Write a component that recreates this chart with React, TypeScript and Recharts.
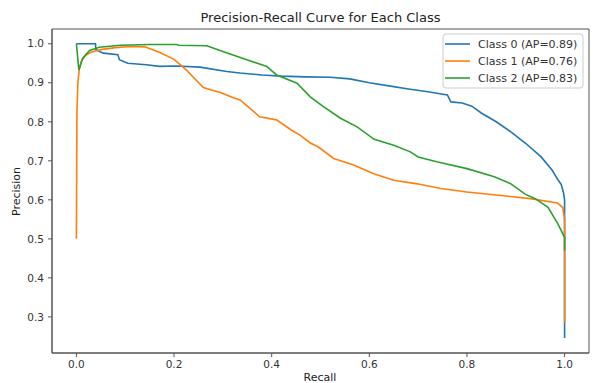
import { LineChart, Line, XAxis, YAxis, ReferenceArea } from "recharts";

const recall0 = [0, 0.039, 0.04, 0.055, 0.085, 0.088, 0.105, 0.143, 0.17, 0.205, 0.253, 0.308, 0.335, 0.38, 0.42, 0.47, 0.52, 0.56, 0.6, 0.64, 0.68, 0.72, 0.76, 0.767, 0.79, 0.81, 0.83, 0.86, 0.89, 0.92, 0.952, 0.975, 0.986, 0.993, 0.998, 1.0, 1.0];
const precision0 = [1.0, 1.0, 0.985, 0.976, 0.972, 0.959, 0.95, 0.946, 0.942, 0.943, 0.94, 0.929, 0.925, 0.92, 0.917, 0.915, 0.914, 0.91, 0.9, 0.892, 0.884, 0.877, 0.869, 0.851, 0.848, 0.84, 0.822, 0.8, 0.774, 0.745, 0.71, 0.675, 0.652, 0.64, 0.617, 0.6, 0.246];

const recall1 = [0, 0.001, 0.003, 0.006, 0.01, 0.018, 0.03, 0.05, 0.08, 0.11, 0.14, 0.155, 0.17, 0.2, 0.225, 0.245, 0.26, 0.28, 0.295, 0.32, 0.335, 0.36, 0.375, 0.41, 0.44, 0.458, 0.48, 0.495, 0.527, 0.568, 0.609, 0.65, 0.698, 0.746, 0.8, 0.87, 0.93, 0.985, 0.996, 1.0, 1.0];
const precision1 = [0.5, 0.82, 0.9, 0.935, 0.955, 0.97, 0.978, 0.985, 0.99, 0.993, 0.992, 0.985, 0.978, 0.96, 0.933, 0.907, 0.888, 0.88, 0.875, 0.862, 0.856, 0.83, 0.813, 0.805, 0.779, 0.766, 0.745, 0.736, 0.706, 0.689, 0.667, 0.65, 0.641, 0.629, 0.62, 0.611, 0.603, 0.592, 0.581, 0.55, 0.285];

const recall2 = [0, 0.005, 0.013, 0.027, 0.047, 0.09, 0.15, 0.205, 0.21, 0.267, 0.3, 0.349, 0.39, 0.41, 0.452, 0.479, 0.506, 0.541, 0.575, 0.61, 0.65, 0.684, 0.7, 0.74, 0.8, 0.856, 0.89, 0.92, 0.94, 0.966, 0.986, 1.0, 1.0];
const precision2 = [1.0, 0.933, 0.963, 0.983, 0.991, 0.996, 0.998, 0.998, 0.996, 0.995, 0.98, 0.959, 0.942, 0.92, 0.899, 0.864, 0.839, 0.809, 0.787, 0.755, 0.74, 0.723, 0.71, 0.697, 0.68, 0.659, 0.641, 0.614, 0.603, 0.581, 0.539, 0.504, 0.47];

const classNames = ["Class 0", "Class 1", "Class 2"];
const apScores = [0.89, 0.76, 0.83];
const colors = ["#1f77b4", "#ff7f0e", "#2ca02c"];

const xTicks = [0, 0.2, 0.4, 0.6, 0.8, 1.0];
const yTicks = [0.3, 0.4, 0.5, 0.6, 0.7, 0.8, 0.9, 1.0];
const X_MIN = -0.05;
const X_MAX = 1.05;
const Y_MIN = 0.2075;
const Y_MAX = 1.0378;

const toPoints = (xs: number[], ys: number[]) => xs.map((x, i) => ({ x, y: ys[i] }));
const series = [
  toPoints(recall0, precision0),
  toPoints(recall1, precision1),
  toPoints(recall2, precision2),
];

const font = "'DejaVu Sans', sans-serif";
const tickStyle = { fontSize: 10.5, fill: "#333", fontFamily: font };

export default function App() {
  return (
    <div style={{ position: "fixed", left: 0, top: 0, width: 601, height: 383, background: "#fff", overflow: "hidden" }}>
      <LineChart width={601} height={383} margin={{ top: 29, right: 12, bottom: 0, left: 7 }}>
        <XAxis
          type="number"
          dataKey="x"
          domain={[X_MIN, X_MAX]}
          ticks={xTicks}
          tickFormatter={(v: number) => v.toFixed(1)}
          allowDataOverflow
          height={30}
          tickSize={4}
          tickMargin={4}
          tick={tickStyle}
          stroke="#555"
        />
        <YAxis
          type="number"
          dataKey="y"
          domain={[Y_MIN, Y_MAX]}
          ticks={yTicks}
          tickFormatter={(v: number) => v.toFixed(1)}
          allowDataOverflow
          width={45}
          tickSize={4}
          tickMargin={4}
          tick={tickStyle}
          stroke="#555"
        />
        <ReferenceArea x1={X_MIN} x2={X_MAX} y1={Y_MIN} y2={Y_MAX} fill="none" stroke="#555" strokeWidth={1} ifOverflow="extendDomain" />
        {series.map((d, i) => (
          <Line
            key={classNames[i]}
            data={d}
            dataKey="y"
            type="linear"
            stroke={colors[i]}
            strokeWidth={1.6}
            dot={false}
            isAnimationActive={false}
          />
        ))}
      </LineChart>
      <svg width={601} height={383} style={{ position: "absolute", left: 0, top: 0, pointerEvents: "none" }}>
        <text x={320.5} y={22} textAnchor="middle" fontSize={13} fontFamily={font} fill="#222">
          Precision-Recall Curve for Each Class
        </text>
        <text transform="translate(20,191.5) rotate(-90)" textAnchor="middle" fontSize={11} fontFamily={font} fill="#222">
          Precision
        </text>
        <text x={320} y={381} textAnchor="middle" fontSize={11} fontFamily={font} fill="#222">
          Recall
        </text>
        <rect x={443} y={34} width={140} height={54} rx={3} fill="#fff" fillOpacity={0.85} stroke="#ccc" />
        {classNames.map((name, i) => (
          <g key={name}>
            <line x1={445} x2={470} y1={44 + i * 17} y2={44 + i * 17} stroke={colors[i]} strokeWidth={1.6} />
            <text x={478} y={48 + i * 17} fontSize={11} fontFamily={font} fill="#333">
              {`${name} (AP=${apScores[i].toFixed(2)})`}
            </text>
          </g>
        ))}
      </svg>
    </div>
  );
}
